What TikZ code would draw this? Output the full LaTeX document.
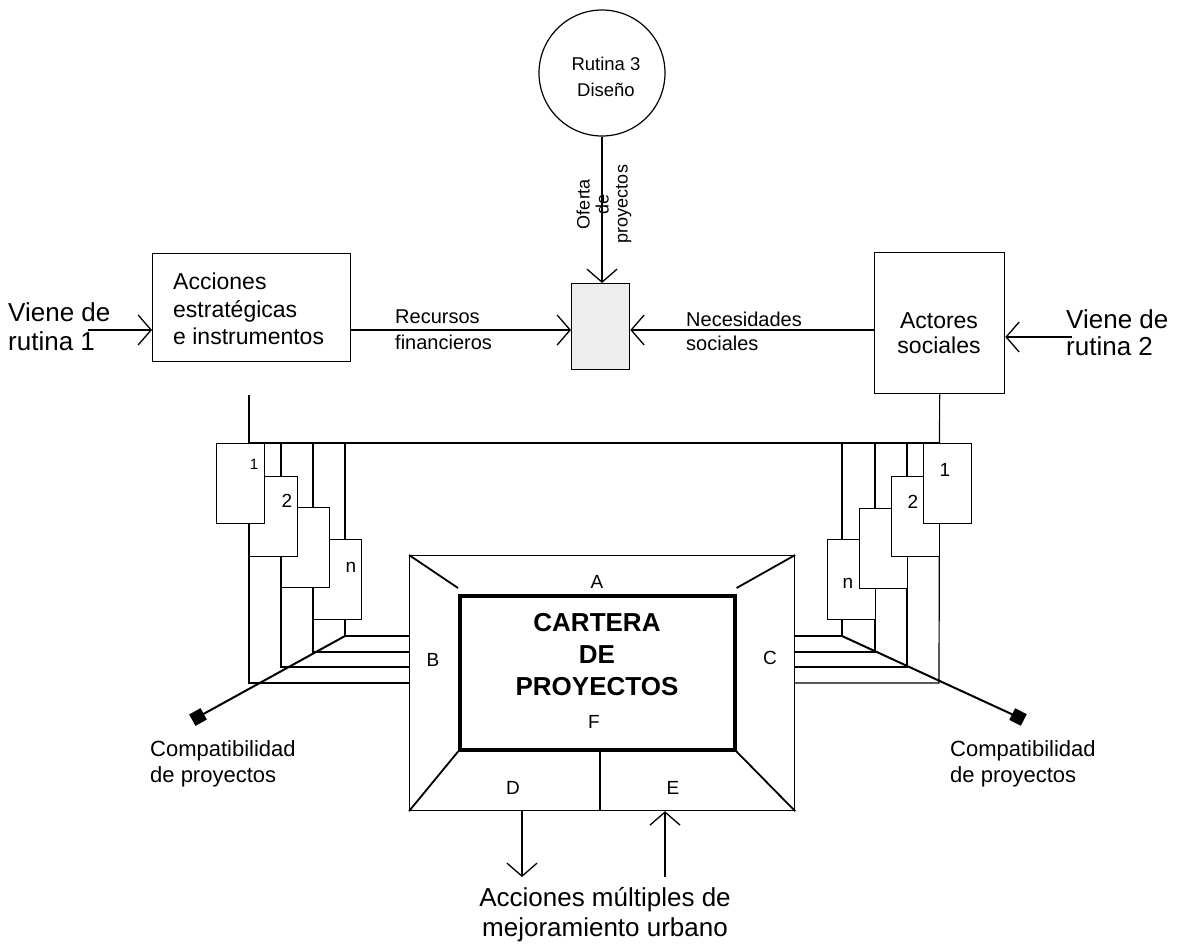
\documentclass[tikz,border=0pt]{standalone}
\usepackage{fontspec}
\setmainfont{Liberation Sans}
\usetikzlibrary{arrows.meta,calc}
\newcommand\myfs[2]{\fontsize{#1}{#2}\selectfont}
\begin{document}
\begin{tikzpicture}[x=1pt,y=-1pt,
  ln/.style={line width=1.2pt},
  barb/.style={-{Straight Barb[length=13pt,width=30pt,line width=1.3pt]}},
  boxnode/.style={draw,line width=1.3pt,inner sep=0pt,anchor=north west},
  card/.style={draw,fill=white,line width=1.2pt,inner sep=0pt,minimum width=48pt,minimum height=80pt,anchor=north west},
  lbl/.style={inner sep=0pt},
  big/.style={font=\myfs{23}{25.5}},
  mid/.style={font=\myfs{18}{25}},
  frm/.style={line width=1.8pt},
  diag/.style={line width=2pt},
  sqmark/.style={fill,minimum size=13pt,inner sep=0pt},
]
\useasboundingbox (0,0) rectangle (1181,948);
\fill[white] (0,0) rectangle (1181,948);

% --- Routine 3 and the project offer ---
\node[draw,circle,ln,minimum size=126pt,inner sep=0pt] (rut3) at (602,73) {};
\node[lbl,align=center,font=\myfs{18.5}{26}] (rut3t) at (606,77) {Rutina 3\\Diseño};
\node[boxnode,fill=black!7,minimum width=58pt,minimum height=86pt] (prj) at (571,283) {};
\draw[ln,barb] (rut3.south) -- (rut3.south |- prj.north);
\node[lbl,rotate=90,align=center,font=\myfs{18}{19}] (oferta) at (604,204) {Oferta\\de\\proyectos};

% --- strategic actions (left) ---
\node[boxnode,minimum width=198pt,minimum height=108pt] (acc) at (152,253) {};
\node[lbl,align=left,anchor=west,font=\myfs{23}{27.5}] (acct) at (173,309) {Acciones\\estratégicas\\e instrumentos};
\coordinate (yL) at (0,330);
\draw[ln,barb] (acc.east |- yL) -- (prj.west |- yL);
\node[lbl,align=left,anchor=west,font=\myfs{20}{26}] (rec) at (395,330) {Recursos\\financieros};
\node[lbl,align=left,anchor=west,font=\myfs{26}{29}] (v1) at (8,327) {Viene de\\rutina 1};
\coordinate (v1e) at (88,330);
\draw[ln,barb] (v1e) -- (acc.west |- v1e);

% --- social actors (right) ---
\node[boxnode,minimum width=130pt,minimum height=141pt] (act) at (874,252) {};
\node[lbl,big,align=center] (actt) at (939,333) {Actores\\sociales};
\draw[ln,barb] (act.west |- yL) -- (prj.east |- yL);
\node[lbl,align=left,anchor=west,font=\myfs{20}{24}] (nec) at (686,331) {Necesidades\\sociales};
\node[lbl,align=left,anchor=west,font=\myfs{26}{27}] (v2) at (1066,333) {Viene de\\rutina 2};
\coordinate (v2s) at (1072,337);
\draw[ln,barb] (v2s) -- (act.east |- v2s);

% --- portfolio frame ---
\node[draw,ln,minimum width=385pt,minimum height=255pt,inner sep=0pt,anchor=north west] (outer) at (409,555) {};
\node[draw,line width=3.6pt,minimum width=275pt,minimum height=154pt,inner sep=0pt,anchor=north west] (cart) at (458,594) {};
\node[lbl,font=\bfseries\myfs{26}{32},align=center] (cartt) at (597,655) {CARTERA\\DE\\PROYECTOS};
\draw[frm] (outer.north west) -- ($(cart.north west)+(0,-6)$);
\draw[frm] (outer.north east) -- ($(cart.north east)+(0,-6)$);
\draw[frm] (outer.south west) -- (cart.south west);
\draw[frm] (outer.south east) -- (cart.south east);
\coordinate (dv) at (600,748);
\draw[ln] (dv) -- (dv |- outer.south);
\node[lbl,font=\myfs{19}{19}] (sA) at (597,582) {A};
\node[lbl,font=\myfs{19}{19}] (sB) at (433,660) {B};
\node[lbl,font=\myfs{19}{19}] (sC) at (770,658) {C};
\node[lbl,font=\myfs{19}{19}] (sD) at (513,788) {D};
\node[lbl,font=\myfs{19}{19}] (sE) at (673,788) {E};
\node[lbl,font=\myfs{19}{19}] (sF) at (594,722) {F};

% --- urban improvement actions ---
\coordinate (dOut) at (522,877);
\coordinate (eIn) at (665,877);
\draw[ln,barb] (outer.south -| dOut) -- (dOut);
\draw[ln,barb] (eIn) -- (eIn |- outer.south);
\node[lbl,align=center,font=\myfs{26}{30}] (acm) at (605,915) {Acciones múltiples de\\mejoramiento urbano};

% --- left stack of actions ---
\draw[ln] (249,395) -- (249,683) -- (409,683);
\draw[ln] (281,443) -- (281,667) -- (409,667);
\draw[ln] (313,443) -- (313,652) -- (409,652);
\draw[ln] (345,443) -- (345,636) -- (409,636);
\draw[ln] (249,443) -- (939,443);
\node[card] (lc4) at (313,539) {};
\node[card] (lc3) at (281,507) {};
\node[card] (lc2) at (249,476) {};
\node[card] (lc1) at (216,443) {};
\node[lbl,font=\myfs{15}{15}] (lc1t) at (254,464) {1};
\node[lbl,font=\myfs{19}{19}] (lc2t) at (287,501) {2};
\node[lbl,font=\myfs{19}{19}] (lc4t) at (351,567) {n};

% --- right stack of actors ---
\draw[ln] (act.south) -- (939,683) -- (794,683);
\draw[ln] (907,443) -- (907,667) -- (794,667);
\draw[ln] (875,443) -- (875,652) -- (794,652);
\draw[ln] (842,443) -- (842,636) -- (794,636);
\node[card] (rc4) at (827,539) {};
\node[card] (rc3) at (859,508) {};
\node[card] (rc2) at (891,476) {};
\node[card] (rc1) at (923,443) {};
\node[lbl,font=\myfs{19}{19}] (rc1t) at (945,470) {1};
\node[lbl,font=\myfs{19}{19}] (rc2t) at (913,502) {2};
\node[lbl,font=\myfs{19}{19}] (rc4t) at (848,583) {n};

% --- compatibility ---
\node[sqmark,rotate=29] (sqL) at (198,717) {};
\node[sqmark,rotate=-27] (sqR) at (1018,717) {};
\draw[diag] (345,636) -- (sqL.center);
\draw[diag] (842,636) -- (sqR.center);
\node[lbl,align=left,anchor=north west,font=\myfs{22}{26}] (compL) at (150,740) {Compatibilidad\\de proyectos};
\node[lbl,align=left,anchor=north west,font=\myfs{22}{26}] (compR) at (950,740) {Compatibilidad\\de proyectos};
\end{tikzpicture}
\end{document}
